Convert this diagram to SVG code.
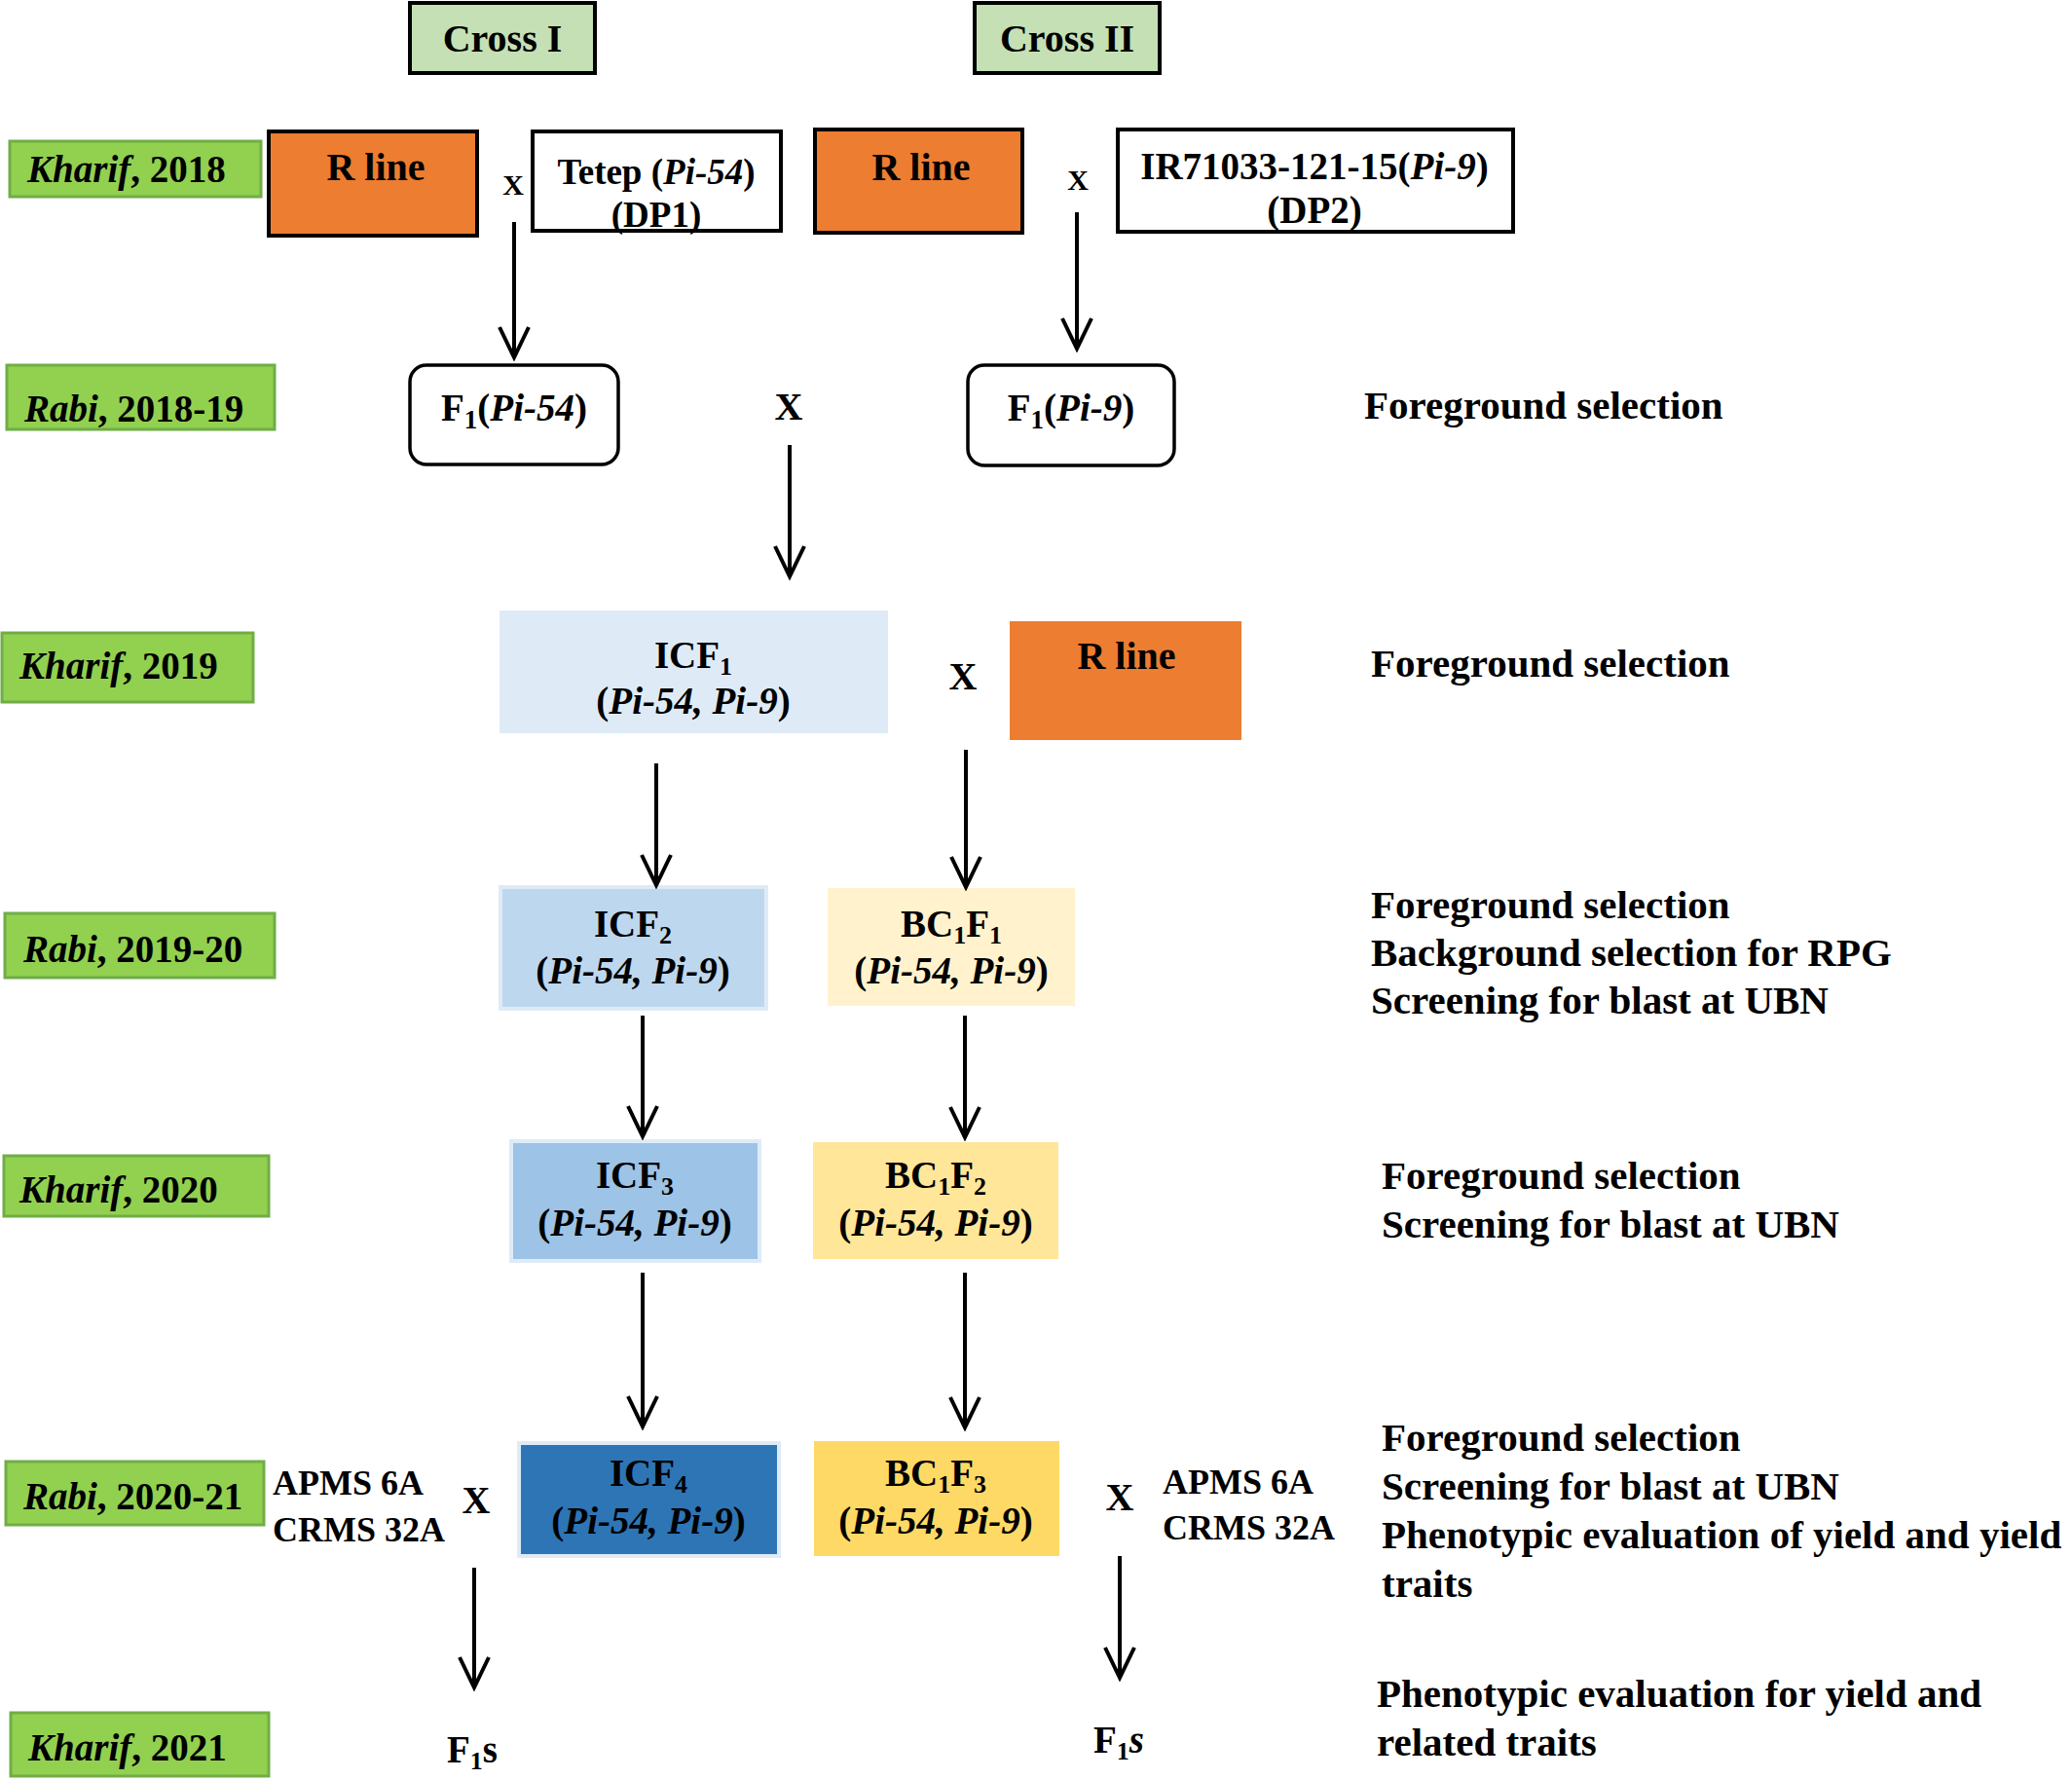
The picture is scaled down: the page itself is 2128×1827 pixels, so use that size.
<svg xmlns="http://www.w3.org/2000/svg" width="2128" height="1827" viewBox="0 0 2128 1827">
<defs>
<style>
text { font-family: "Liberation Serif", "Times New Roman", serif; font-weight: bold; fill: #000; font-size: 39px; }
.m { text-anchor: middle; }
.i { font-style: italic; }
.r { font-size: 41px; }
.b { font-size: 37px; }
.xs { font-size: 30px; }
.lbl { fill: #92d050; stroke: #70ad47; stroke-width: 3; }
.cross { fill: #c5e0b4; stroke: #000; stroke-width: 4; }
.rline { fill: #ed7d31; stroke: #000; stroke-width: 4; }
.par { fill: #fff; stroke: #000; stroke-width: 4; }
.f1 { fill: #fff; stroke: #000; stroke-width: 3.5; }
.conn line { stroke: #000; stroke-width: 4; fill: none; }
</style>
<marker id="arr" markerUnits="userSpaceOnUse" viewBox="-36 -20 40 40" markerWidth="40" markerHeight="40" refX="0" refY="0" orient="auto">
<path d="M -31 -15 L 0 0 L -31 15" fill="none" stroke="#000" stroke-width="4" stroke-linejoin="miter"/>
</marker>
</defs>
<rect width="2128" height="1827" fill="#fff"/>

<!-- season labels -->
<g id="lbl-kharif-2018"><rect class="lbl" x="10" y="145" width="258" height="57"/><text x="28" y="187"><tspan class="i">Kharif</tspan>, 2018</text></g>
<g id="lbl-rabi-2018-19"><rect class="lbl" x="7" y="375" width="275" height="66"/><text x="25" y="433"><tspan class="i">Rabi</tspan>, 2018-19</text></g>
<g id="lbl-kharif-2019"><rect class="lbl" x="2" y="650" width="258" height="71"/><text x="20" y="697"><tspan class="i">Kharif</tspan>, 2019</text></g>
<g id="lbl-rabi-2019-20"><rect class="lbl" x="5" y="938" width="277" height="66"/><text x="24" y="988"><tspan class="i">Rabi</tspan>, 2019-20</text></g>
<g id="lbl-kharif-2020"><rect class="lbl" x="4" y="1187" width="272" height="62"/><text x="20" y="1235"><tspan class="i">Kharif</tspan>, 2020</text></g>
<g id="lbl-rabi-2020-21"><rect class="lbl" x="6" y="1501" width="265" height="65"/><text x="24" y="1550"><tspan class="i">Rabi</tspan>, 2020-21</text></g>
<g id="lbl-kharif-2021"><rect class="lbl" x="11" y="1759" width="265" height="65"/><text x="29" y="1808"><tspan class="i">Kharif</tspan>, 2021</text></g>

<!-- cross headers -->
<g id="cross-1"><rect class="cross" x="421" y="3" width="190" height="72"/><text class="m" x="516" y="53" style="font-size:40px">Cross I</text></g>
<g id="cross-2"><rect class="cross" x="1001" y="3" width="190" height="72"/><text class="m" x="1096" y="53" style="font-size:40px">Cross II</text></g>

<!-- row 1 -->
<g id="rline-1"><rect class="rline" x="276" y="135" width="214" height="107"/><text class="m" x="386" y="185" style="font-size:40px">R line</text></g>
<text class="m xs" x="527" y="200">X</text>
<g id="tetep"><rect class="par" x="547" y="135" width="255" height="102"/><text class="m b" x="674" y="189">Tetep (<tspan class="i">Pi-54</tspan>)</text><text class="m b" x="674" y="233">(DP1)</text></g>
<g id="rline-2"><rect class="rline" x="837" y="133" width="213" height="106"/><text class="m" x="946" y="185" style="font-size:40px">R line</text></g>
<text class="m xs" x="1107" y="195">X</text>
<g id="ir71033"><rect class="par" x="1148" y="133" width="406" height="105"/><text class="m" x="1350" y="184">IR71033-121-15(<tspan class="i">Pi-9</tspan>)</text><text class="m" x="1350" y="229">(DP2)</text></g>

<!-- row 2 -->
<g id="f1-pi54"><rect class="f1" x="421" y="375" width="214" height="102" rx="17"/><text class="m" x="528" y="432">F<tspan dy="8" font-size="27">1</tspan><tspan dy="-8">(</tspan><tspan class="i">Pi-54</tspan>)</text></g>
<text class="m" x="810" y="431" style="font-size:40px">X</text>
<g id="f1-pi9"><rect class="f1" x="994" y="375" width="212" height="103" rx="17"/><text class="m" x="1100" y="432">F<tspan dy="8" font-size="27">1</tspan><tspan dy="-8">(</tspan><tspan class="i">Pi-9</tspan>)</text></g>
<text class="r" x="1401" y="430">Foreground selection</text>

<!-- row 3 -->
<g id="icf1"><rect x="513" y="627" width="399" height="126" fill="#deebf7"/><text class="m" x="712" y="686">ICF<tspan dy="7" font-size="26">1</tspan></text><text class="m" x="712" y="733">(<tspan class="i">Pi-54, Pi-9</tspan>)</text></g>
<text class="m" x="989" y="708" style="font-size:40px">X</text>
<g id="rline-3"><rect x="1037" y="638" width="238" height="122" fill="#ed7d31"/><text class="m" x="1157" y="687" style="font-size:40px">R line</text></g>
<text class="r" x="1408" y="695">Foreground selection</text>

<!-- row 4 -->
<g id="icf2"><rect x="514" y="911" width="273" height="125" fill="#bdd7ee" stroke="#deebf7" stroke-width="4"/><text class="m" x="650" y="962">ICF<tspan dy="7" font-size="26">2</tspan></text><text class="m" x="650" y="1010">(<tspan class="i">Pi-54, Pi-9</tspan>)</text></g>
<g id="bc1f1"><rect x="850" y="912" width="254" height="121" fill="#fff2cc"/><text class="m" x="977" y="962">BC<tspan dy="7" font-size="26">1</tspan><tspan dy="-7">F</tspan><tspan dy="7" font-size="26">1</tspan></text><text class="m" x="977" y="1010">(<tspan class="i">Pi-54, Pi-9</tspan>)</text></g>
<text class="r" x="1408" y="943">Foreground selection</text>
<text class="r" x="1408" y="992">Background selection for RPG</text>
<text class="r" x="1408" y="1041">Screening for blast at UBN</text>

<!-- row 5 -->
<g id="icf3"><rect x="525" y="1172" width="255" height="123" fill="#9dc3e6" stroke="#deebf7" stroke-width="4"/><text class="m" x="652" y="1220">ICF<tspan dy="7" font-size="26">3</tspan></text><text class="m" x="652" y="1269">(<tspan class="i">Pi-54, Pi-9</tspan>)</text></g>
<g id="bc1f2"><rect x="835" y="1173" width="252" height="120" fill="#ffe699"/><text class="m" x="961" y="1220">BC<tspan dy="7" font-size="26">1</tspan><tspan dy="-7">F</tspan><tspan dy="7" font-size="26">2</tspan></text><text class="m" x="961" y="1269">(<tspan class="i">Pi-54, Pi-9</tspan>)</text></g>
<text class="r" x="1419" y="1221">Foreground selection</text>
<text class="r" x="1419" y="1271">Screening for blast at UBN</text>

<!-- row 6 -->
<g id="cms-left"><text x="280" y="1535" style="font-size:36px">APMS 6A</text><text x="280" y="1583" style="font-size:36px">CRMS 32A</text></g>
<text class="m" x="489" y="1554" style="font-size:40px">X</text>
<g id="icf4"><rect x="533" y="1482" width="267" height="116" fill="#2e75b6" stroke="#deebf7" stroke-width="4"/><text class="m" x="666" y="1526">ICF<tspan dy="7" font-size="26">4</tspan></text><text class="m" x="666" y="1575">(<tspan class="i">Pi-54, Pi-9</tspan>)</text></g>
<g id="bc1f3"><rect x="836" y="1480" width="252" height="118" fill="#ffd966"/><text class="m" x="961" y="1526">BC<tspan dy="7" font-size="26">1</tspan><tspan dy="-7">F</tspan><tspan dy="7" font-size="26">3</tspan></text><text class="m" x="961" y="1575">(<tspan class="i">Pi-54, Pi-9</tspan>)</text></g>
<text class="m" x="1150" y="1551" style="font-size:40px">X</text>
<g id="cms-right"><text x="1194" y="1534" style="font-size:36px">APMS 6A</text><text x="1194" y="1581" style="font-size:36px">CRMS 32A</text></g>
<text class="r" x="1419" y="1490">Foreground selection</text>
<text class="r" x="1419" y="1540">Screening for blast at UBN</text>
<text class="r" x="1419" y="1590">Phenotypic evaluation of yield and yield</text>
<text class="r" x="1419" y="1640">traits</text>

<!-- row 7 -->
<g id="f1s-left"><text x="459" y="1810">F<tspan dy="7" font-size="26">1</tspan><tspan dy="-7">s</tspan></text></g>
<g id="f1s-right"><text x="1123" y="1800">F<tspan dy="7" font-size="26">1</tspan><tspan dy="-7" class="i">s</tspan></text></g>
<text class="r" x="1414" y="1753">Phenotypic evaluation for yield and</text>
<text class="r" x="1414" y="1803">related traits</text>

<!-- connectors -->
<g id="connectors" class="conn">
<line x1="528" y1="228" x2="528" y2="367" marker-end="url(#arr)"/>
<line x1="1106" y1="218" x2="1106" y2="358" marker-end="url(#arr)"/>
<line x1="811" y1="457" x2="811" y2="592" marker-end="url(#arr)"/>
<line x1="674" y1="784" x2="674" y2="909" marker-end="url(#arr)"/>
<line x1="992" y1="770" x2="992" y2="911" marker-end="url(#arr)"/>
<line x1="660" y1="1043" x2="660" y2="1167" marker-end="url(#arr)"/>
<line x1="991" y1="1043" x2="991" y2="1168" marker-end="url(#arr)"/>
<line x1="660" y1="1307" x2="660" y2="1465" marker-end="url(#arr)"/>
<line x1="991" y1="1307" x2="991" y2="1466" marker-end="url(#arr)"/>
<line x1="487" y1="1610" x2="487" y2="1733" marker-end="url(#arr)"/>
<line x1="1150" y1="1598" x2="1150" y2="1723" marker-end="url(#arr)"/>
</g>
</svg>
